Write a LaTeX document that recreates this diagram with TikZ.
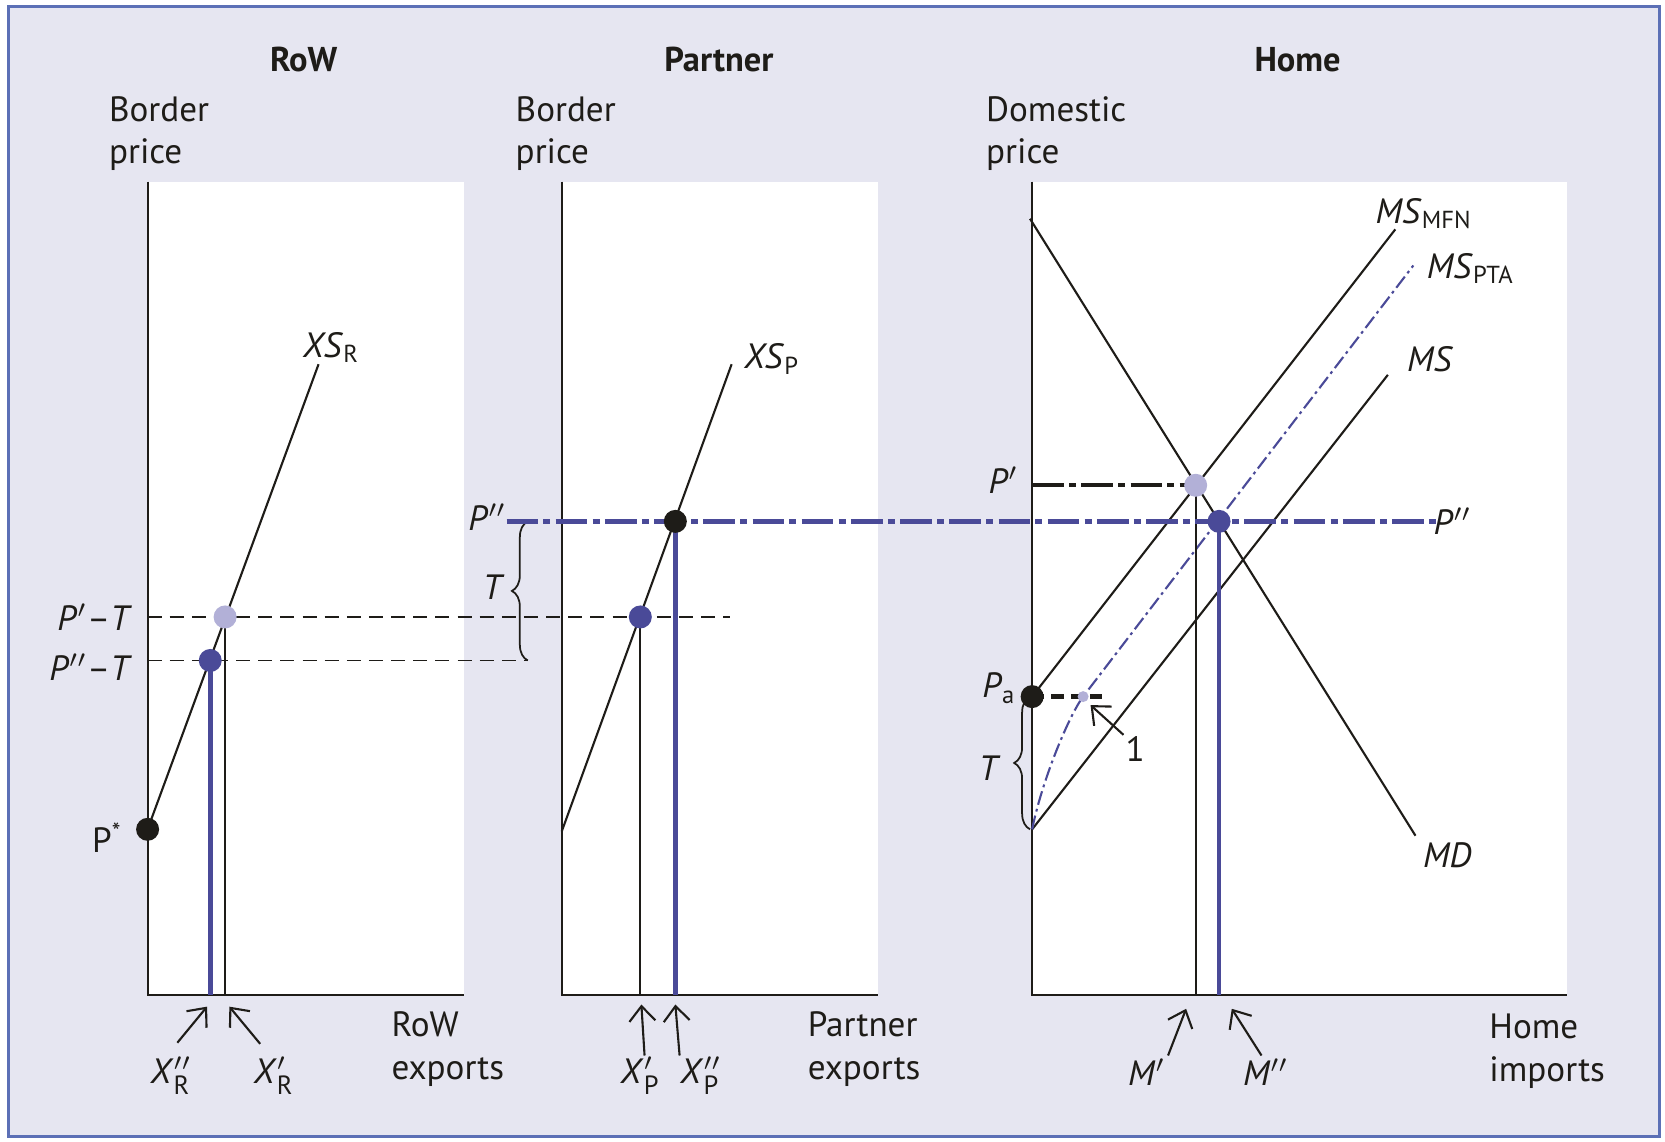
\documentclass[tikz,border=0pt]{standalone}
\usepackage{fontspec}
\setmainfont{PT Sans}
\usetikzlibrary{arrows.meta,decorations.pathreplacing}

\definecolor{panelbg}{RGB}{230,230,241}
\definecolor{framecol}{RGB}{92,112,182}
\definecolor{ptablue}{RGB}{74,74,152}
\definecolor{lightdot}{RGB}{178,176,215}
\definecolor{ink}{RGB}{30,28,24}
\newcommand{\subfont}{\fontsize{7.5}{9}\selectfont}

\begin{document}
\begin{tikzpicture}[x=0.010619cm, y=-0.010619cm,
  every node/.style={font=\fontsize{10}{12}\selectfont, text=ink},
  paneltitle/.style={font=\fontsize{9.8}{12}\selectfont\bfseries},
  axislbl/.style={align=left, anchor=west},
  supply/.style={draw=ink, line width=0.6pt},
  blueline/.style={draw=ptablue, line width=1.3pt},
  guide/.style={draw=ink, line width=0.55pt, dash pattern=on 4pt off 2.3pt},
  dashdot/.style={line width=1.3pt, dash pattern=on 9pt off 1.5pt on 2pt off 1.5pt},
  eqdot/.style={circle, inner sep=0pt, minimum size=2.3mm},
  pointer/.style={draw=ink, line width=0.6pt, -{Straight Barb[length=1.5mm, width=2.6mm]}},
  tbrace/.style={draw=ink, line width=0.5pt, decorate, decoration={brace, amplitude=4.5pt}}]
  \useasboundingbox (0,0) rectangle (1568,1075);
  \fill[white] (0,0) rectangle (1568,1075);
  \draw[framecol, line width=0.8pt, fill=panelbg] (8,6) rectangle (1563,1070);
  \fill[white] (139,171) rectangle (437,937);
  \fill[white] (529,171) rectangle (827,937);
  \fill[white] (972,171) rectangle (1476,937);

  \coordinate (rowo) at (139,937);
  \coordinate (partnero) at (529,937);
  \coordinate (homeo) at (972,937);
  \coordinate (pstar) at (139,781);
  \coordinate (xsrend) at (300,343);
  \coordinate (rowp1) at (212,581);
  \coordinate (rowp2) at (198,622);
  \coordinate (xspstart) at (529,783);
  \coordinate (xspend) at (689,343);
  \coordinate (partp1) at (603,581);
  \coordinate (partp2) at (636,491);
  \coordinate (mdstart) at (970,206);
  \coordinate (mdend) at (1333,787);
  \coordinate (pa) at (972,656);
  \coordinate (mfnend) at (1314,216);
  \coordinate (msstart) at (972,781);
  \coordinate (msend) at (1307,353);
  \coordinate (kink) at (1020,656);
  \coordinate (ptaend) at (1331,250);
  \coordinate (homep1) at (1126,457);
  \coordinate (homep2) at (1148,491);

  \draw[supply] (139,171) -- (rowo) -- (437,937);
  \draw[supply] (529,171) -- (partnero) -- (827,937);
  \draw[supply] (972,171) -- (homeo) -- (1476,937);

  \draw[guide] (rowp1 -| rowo) -- (687,581);
  \draw[guide] (rowp2 -| rowo) -- (497,622);
  \draw[supply] (pstar) -- (xsrend);
  \draw[supply] (rowp1) -- (rowp1 |- rowo);
  \draw[blueline] (rowp2) -- (rowp2 |- rowo);

  \draw[supply] (xspstart) -- (xspend);
  \draw[supply] (partp1) -- (partp1 |- partnero);
  \draw[blueline] (partp2) -- (partp2 |- partnero);
  \draw[tbrace] (497,622) -- (497,491);

  \draw[supply] (mdstart) -- (mdend);
  \draw[supply] (pa) -- (mfnend);
  \draw[supply] (msstart) -- (msend);
  \draw[ptablue, line width=0.6pt, dash pattern=on 4pt off 1.2pt on 0.8pt off 1.2pt]
    (msstart) .. controls (981,736) and (1006,675) .. (kink) -- (ptaend);
  \draw[ink, dashdot, line width=1.1pt] (homep1 -| homeo) -- (homep1);
  \draw[ink, line width=1.2pt, dash pattern=on 3.5pt off 2pt] (pa) -- (1040,656);
  \draw[supply] (homep1) -- (homep1 |- homeo);
  \draw[blueline] (homep2) -- (homep2 |- homeo);
  \draw[tbrace] (970,781) -- (970,656);

  \draw[ptablue, dashdot] (477,491) -- (1352,491);

  \node[eqdot, fill=lightdot] (rowp1dot) at (rowp1) {};
  \node[eqdot, fill=ptablue] (rowp2dot) at (rowp2) {};
  \node[eqdot, fill=ink] (pstardot) at (pstar) {};
  \node[eqdot, fill=ptablue] (partp1dot) at (partp1) {};
  \node[eqdot, fill=ink] (partp2dot) at (partp2) {};
  \node[eqdot, fill=lightdot] (homep1dot) at (homep1) {};
  \node[eqdot, fill=ptablue] (homep2dot) at (homep2) {};
  \node[eqdot, fill=ink] (padot) at (pa) {};
  \node[eqdot, fill=lightdot, minimum size=1.1mm] (kinkdot) at (kink) {};

  \node[paneltitle] (rowtitle) at (286,56) {RoW};
  \node[paneltitle] (partnertitle) at (677,56) {Partner};
  \node[paneltitle] (hometitle) at (1222,56) {Home};
  \node[axislbl] (rowy) at (91,126) {Border\\price};
  \node[axislbl] (partnery) at (474,126) {Border\\price};
  \node[axislbl] (homey) at (917,126) {Domestic\\price};
  \node[axislbl] (rowx) at (357,988) {RoW\\exports};
  \node[axislbl] (partnerx) at (749,988) {Partner\\exports};
  \node[axislbl] (homex) at (1391,990) {Home\\imports};

  \node (xsrlbl) at (312,327) {\textit{XS}\textsubscript{R}};
  \node (xsplbl) at (727,338) {\textit{XS}\textsubscript{P}};
  \node[anchor=east] (p1tlbl) at (136,581) {\textit{P}$'$–\textit{T}};
  \node[anchor=east] (p2tlbl) at (136,628) {\textit{P}$''$–\textit{T}};
  \node (pstarlbl) at (101,789) {P\textsuperscript{*}};
  \node (p2llbl) at (459,487) {\textit{P}$''$};
  \node (tlbl) at (465,553) {\textit{T}};
  \node (p2rlbl) at (1368,491) {\textit{P}$''$};
  \node (p1lbl) at (945,452) {\textit{P}$'$};
  \node (palbl) at (941,648) {\textit{P}\textsubscript{a}};
  \node (thlbl) at (932,723) {\textit{T}};
  \node (onelbl) at (1069,705) {1};
  \node (mdlbl) at (1363,805) {\textit{MD}};
  \node (mfnlbl) at (1341,201) {\textit{MS}\textsubscript{MFN}};
  \node (ptalbl) at (1385,253) {\textit{MS}\textsubscript{PTA}};
  \node (mslbl) at (1347,338) {\textit{MS}};

  \node (xr2lbl) at (161,1013) {\textit{X}$''_{\mbox{\subfont R}}$};
  \node (xr1lbl) at (258,1013) {\textit{X}$'_{\mbox{\subfont R}}$};
  \node (xp1lbl) at (603,1013) {\textit{X}$'_{\mbox{\subfont P}}$};
  \node (xp2lbl) at (660,1013) {\textit{X}$''_{\mbox{\subfont P}}$};
  \node (m1lbl) at (1080,1010) {\textit{M}$'$};
  \node (m2lbl) at (1192,1010) {\textit{M}$''$};

  \coordinate (xr2tail) at (167,982);
  \coordinate (xr1tail) at (245,983);
  \coordinate (xp1tail) at (607,994);
  \coordinate (xp2tail) at (640,994);
  \coordinate (m1tail) at (1100,994);
  \coordinate (m2tail) at (1188,994);
  \coordinate (onetail) at (1058,692);
  \draw[pointer] (xr2tail) -- (195,948);
  \draw[pointer] (xr1tail) -- (216,948);
  \draw[pointer] (xp1tail) -- (604,946);
  \draw[pointer] (xp2tail) -- (636,946);
  \draw[pointer] (m1tail) -- (1117,950);
  \draw[pointer] (m2tail) -- (1160,950);
  \draw[pointer] (onetail) -- (1027,664);
\end{tikzpicture}
\end{document}
